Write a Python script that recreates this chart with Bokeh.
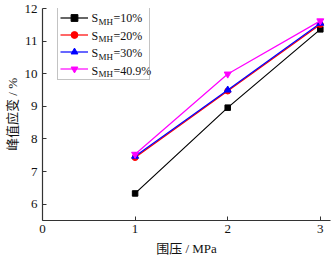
from bokeh.plotting import figure
from bokeh.models import Range1d, FixedTicker, Legend, LegendItem, Label
from bokeh.embed import file_html
from bokeh.resources import INLINE

pressure = [1, 2, 3]
s10 = [6.33, 8.96, 11.36]
s20 = [7.43, 9.47, 11.51]
s30 = [7.47, 9.50, 11.55]
s409 = [7.53, 9.99, 11.62]
series_names = ["10%", "20%", "30%", "40.9%"]
colors = ["#000000", "#FF0000", "#0000FF", "#FF00FF"]
markers = ["square", "circle", "triangle", "inverted_triangle"]
marker_sizes = [5.5, 6, 7, 7]
x_ticks = [0, 1, 2, 3]
y_ticks = [6, 7, 8, 9, 10, 11, 12]

SERIF = "'Liberation Serif', 'Times New Roman', serif"
CJK = "'Liberation Serif', 'Noto Sans CJK SC', serif"

p = figure(width=334, height=260, output_backend="svg", toolbar_location=None,
           x_range=Range1d(0, 3.11), y_range=Range1d(5.5, 12.0),
           min_border_left=42, min_border_right=4, min_border_top=8, min_border_bottom=40)
p.outline_line_color = None
p.grid.grid_line_color = None
p.background_fill_color = "white"
p.border_fill_color = "white"

for ax in (p.xaxis[0], p.yaxis[0]):
    ax.axis_line_color = "#333333"
    ax.axis_line_width = 1.2
    ax.major_tick_line_color = "#333333"
    ax.major_tick_in = 4
    ax.major_tick_out = 0
    ax.minor_tick_line_color = None
    ax.major_label_text_font = SERIF
    ax.major_label_text_font_size = "13px"
    ax.major_label_text_color = "#111111"
    ax.axis_label_text_font = CJK
    ax.axis_label_text_font_size = "13px"
    ax.axis_label_text_font_style = "normal"
    ax.axis_label_text_color = "#111111"

p.xaxis.ticker = FixedTicker(ticks=x_ticks)
p.yaxis.ticker = FixedTicker(ticks=y_ticks)
p.xaxis.axis_label = "围压 / MPa"
p.yaxis.axis_label = "峰值应变 / %"
p.xaxis.major_label_standoff = 4
p.yaxis.major_label_standoff = 5
p.xaxis.axis_label_standoff = 5
p.yaxis.axis_label_standoff = 2

items = []
for vals, c, m, sz in zip([s10, s20, s30, s409], colors, markers, marker_sizes):
    ln = p.line(pressure, vals, line_color=c, line_width=1.2)
    sc = p.scatter(pressure, vals, marker=m, size=sz, fill_color=c, line_color=c)
    items.append(LegendItem(label=" ", renderers=[ln, sc]))

legend = Legend(items=items, location=(15, 140), padding=2, spacing=0,
                glyph_width=28, glyph_height=17, label_height=17, label_width=57,
                label_standoff=2, border_line_color="#888888", border_line_width=1,
                background_fill_alpha=0.0, label_text_font_size="12px")
p.add_layout(legend, "center")

# legend labels with subscripts (screen units, relative to frame bottom-left)
for i, nm in enumerate(series_names):
    yc = 202.5 - i * 17.5
    p.add_layout(Label(x=49, y=yc, x_units="screen", y_units="screen", text="S",
                       text_font=SERIF, text_font_size="12px", text_color="#111111",
                       text_baseline="middle"))
    p.add_layout(Label(x=56, y=yc - 3.5, x_units="screen", y_units="screen", text="MH",
                       text_font=SERIF, text_font_size="9px", text_color="#111111",
                       text_baseline="middle"))
    p.add_layout(Label(x=71, y=yc, x_units="screen", y_units="screen", text="=" + nm,
                       text_font=SERIF, text_font_size="12px", text_color="#111111",
                       text_baseline="middle"))

open("out.html", "w").write(file_html(p, INLINE))
